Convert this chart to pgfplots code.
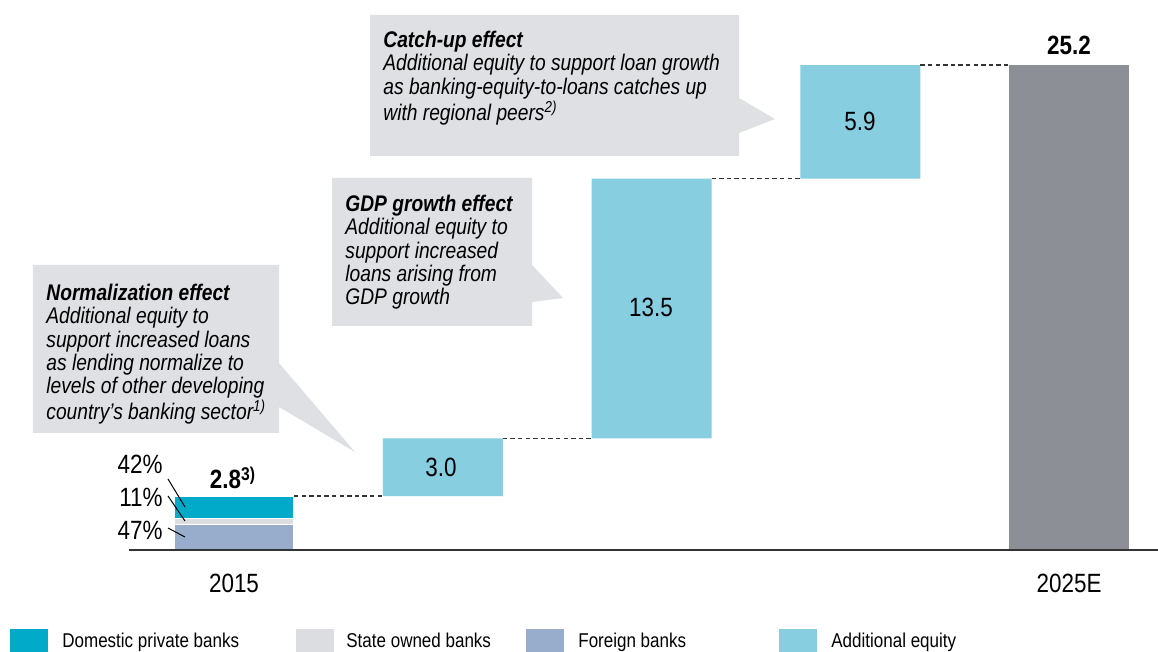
\documentclass[border=0pt]{standalone}
\usepackage{pgfplots}
\pgfplotsset{compat=1.18}
\usepackage{fontspec}
\setmainfont{Liberation Sans}[FakeStretch=0.85]

\definecolor{cdom}{HTML}{00AAC8}
\definecolor{cstate}{HTML}{DCDDE1}
\definecolor{cfor}{HTML}{97ADCB}
\definecolor{cadd}{HTML}{86CEE0}
\definecolor{ctot}{HTML}{8C9096}
\definecolor{cbox}{HTML}{DFE0E4}
\definecolor{caxis}{HTML}{333333}

\newcommand{\lbl}{\fontsize{13.2}{15}\selectfont}
\newcommand{\call}{\fontsize{11.3}{11.6}\selectfont\itshape}
\newcommand{\leg}{\fontsize{10}{12}\selectfont}
\tikzset{conn/.style={caxis, line width=0.75pt, dash pattern=on 2.2pt off 1.6pt, mark=none}}

\begin{document}
\begin{tikzpicture}
% pixel frame of the reference: x right, y down
\tikzset{px/.style={x=0.5pt,y=-0.5pt,shift={(-64.5pt,275pt)}}}

% callout boxes (behind everything)
\begin{scope}[px]
\fill[cbox] (370,15) -- (739,15) -- (739,98) -- (775,119) -- (739,133) -- (739,156) -- (370,156) -- cycle;
\fill[cbox] (332,178) -- (532,178) -- (532,265) -- (563,298) -- (532,302) -- (532,326) -- (332,326) -- cycle;
\fill[cbox] (33,265) -- (279,265) -- (279,363) -- (355,452) -- (279,407) -- (279,433) -- (33,433) -- cycle;
\end{scope}

\begin{axis}[
    scale only axis, width=514.5pt, height=267.5pt,
    xmin=-0.503, xmax=4.426, ymin=0, ymax=27.8,
    enlargelimits=false, clip=false, axis on top,
    ybar stacked, bar width=60pt,
    axis x line*=bottom, axis y line=none,
    axis line style={draw=caxis, line width=1pt},
    xtick={0,4}, xticklabels={2015,2025E},
    major tick length=0pt,
    xticklabel style={font=\lbl, anchor=center, yshift=-16.5pt}]
\addplot[draw=none, fill=none] coordinates {(0,0) (1,2.8) (2,5.8) (3,19.3) (4,0)};
\addplot[fill=cfor, draw=white, line width=0.6pt] coordinates {(0,1.316) (1,0) (2,0) (3,0) (4,0)};
\addplot[fill=cstate, draw=white, line width=0.6pt] coordinates {(0,0.308) (1,0) (2,0) (3,0) (4,0)};
\addplot[fill=cdom, draw=white, line width=0.6pt] coordinates {(0,1.176) (1,0) (2,0) (3,0) (4,0)};
\addplot[fill=cadd, draw=none] coordinates {(0,0) (1,3.0) (2,13.5) (3,5.9) (4,0)};
\addplot[fill=ctot, draw=none] coordinates {(0,0) (1,0) (2,0) (3,0) (4,25.2)};
\end{axis}

% connectors, unstacked
\begin{axis}[
    scale only axis, width=514.5pt, height=267.5pt,
    xmin=-0.503, xmax=4.426, ymin=0, ymax=27.8,
    hide axis, clip=false]
\addplot[conn] coordinates {(0.2874,2.8) (0.7126,2.8)};
\addplot[conn] coordinates {(1.2874,5.8) (1.7126,5.8)};
\addplot[conn] coordinates {(2.2874,19.3) (2.7126,19.3)};
\addplot[conn] coordinates {(3.2874,25.2) (3.7126,25.2)};
\end{axis}

\begin{scope}[px]
% value labels
\node[font=\lbl] at (441,467) {3.0};
\node[font=\lbl] at (651,307) {13.5};
\node[font=\lbl] at (860,121) {5.9};
\node[font=\lbl\bfseries] at (1069,45) {25.2};
\node[font=\lbl\bfseries] at (233,478) {2.8\textsuperscript{3)}};
% shares of 2015
\node[font=\lbl, anchor=east, inner sep=0] at (163,464) {42\%};
\node[font=\lbl, anchor=east, inner sep=0] at (163,497) {11\%};
\node[font=\lbl, anchor=east, inner sep=0] at (163,530) {47\%};
\draw[line width=0.5pt] (168,479) -- (185,507);
\draw[line width=0.5pt] (168,496) -- (185,521);
\draw[line width=0.5pt] (168,528) -- (185,537);
% callout texts
\node[anchor=north west, inner sep=0, align=left, font=\call] at (383,31)
  {\textbf{Catch-up effect}\\Additional equity to support loan growth\\as banking-equity-to-loans catches up\\with regional peers\textsuperscript{2)}};
\node[anchor=north west, inner sep=0, align=left, font=\call] at (345,195)
  {\textbf{GDP growth effect}\\Additional equity to\\support increased\\loans arising from\\GDP growth};
\node[anchor=north west, inner sep=0, align=left, font=\call] at (46,284)
  {\textbf{Normalization effect}\\Additional equity to\\support increased loans\\as lending normalize to\\levels of other developing\\country's banking sector\textsuperscript{1)}};
% legend
\fill[cdom] (10,629) rectangle (48,656);
\fill[cstate] (296,629) rectangle (334,656);
\fill[cfor] (526,629) rectangle (564,656);
\fill[cadd] (779,629) rectangle (817,656);
\node[anchor=base west, inner sep=0, font=\leg] at (62,648) {Domestic private banks};
\node[anchor=base west, inner sep=0, font=\leg] at (346,648) {State owned banks};
\node[anchor=base west, inner sep=0, font=\leg] at (578,648) {Foreign banks};
\node[anchor=base west, inner sep=0, font=\leg] at (831,648) {Additional equity};
\end{scope}

\pgfresetboundingbox
\path[use as bounding box] (-64.5pt,-51pt) rectangle (514.5pt,275pt);
\end{tikzpicture}
\end{document}
